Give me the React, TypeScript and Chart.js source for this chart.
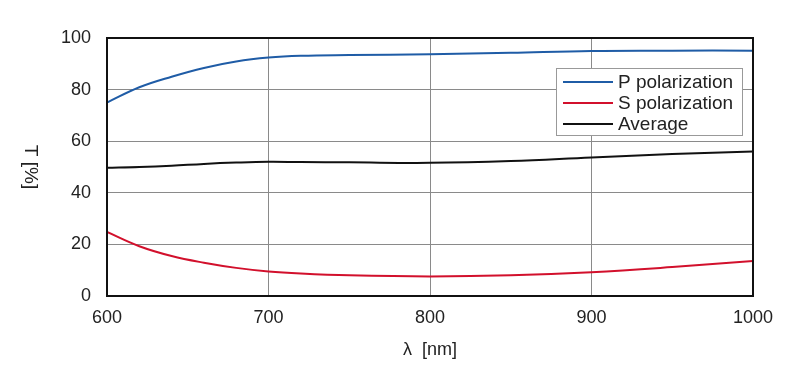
import { useEffect, useRef } from 'react';
import { Chart, registerables } from 'chart.js';

Chart.register(...registerables);

const wavelengths = [600, 620, 640, 660, 680, 700, 720, 750, 800, 850, 900, 950, 1000];
const pPolarization = [75.0, 80.9, 85.0, 88.4, 90.9, 92.4, 93.1, 93.4, 93.7, 94.3, 95.0, 95.1, 95.1];
const sPolarization = [24.8, 19.3, 15.5, 12.9, 10.9, 9.5, 8.7, 8.0, 7.6, 8.0, 9.2, 11.2, 13.6];
const average = [49.7, 50.0, 50.5, 51.2, 51.7, 52.0, 51.9, 51.8, 51.6, 52.3, 53.7, 55.0, 56.0];
const seriesLabels = ['P polarization', 'S polarization', 'Average'];
const seriesColors = ['#1f5ca6', '#d2102c', '#111111'];
const xTitle = 'λ  [nm]';
const yTitle = 'T [%]';

const FONT = '"Liberation Sans", Arial, sans-serif';

const framePlugin = {
  id: 'frameAndText',
  afterDatasetsDraw(chart: any) {
    const { ctx, chartArea } = chart;
    ctx.save();
    ctx.strokeStyle = '#111';
    ctx.lineWidth = 2;
    ctx.strokeRect(chartArea.left, chartArea.top, chartArea.right - chartArea.left, chartArea.bottom - chartArea.top);
    ctx.restore();
  },
  afterDraw(chart: any) {
    const { ctx, chartArea } = chart;
    ctx.save();
    // legend
    const bw = 186;
    const bh = 67;
    const bx = chartArea.right - 11 - bw;
    const by = chartArea.top + 30;
    ctx.fillStyle = '#fff';
    ctx.fillRect(bx, by, bw, bh);
    ctx.strokeStyle = '#999';
    ctx.lineWidth = 1;
    ctx.strokeRect(bx + 0.5, by + 0.5, bw, bh);
    ctx.font = `19px ${FONT}`;
    ctx.textBaseline = 'middle';
    ctx.textAlign = 'left';
    chart.data.datasets.forEach((ds: any, i: number) => {
      const y = by + 14 + i * 21;
      ctx.strokeStyle = ds.borderColor;
      ctx.lineWidth = 2;
      ctx.beginPath();
      ctx.moveTo(bx + 7, y);
      ctx.lineTo(bx + 57, y);
      ctx.stroke();
      ctx.fillStyle = '#222';
      ctx.fillText(ds.label, bx + 62, y + 1);
    });
    // y title (reads top to bottom)
    ctx.fillStyle = '#222';
    ctx.font = `19px ${FONT}`;
    ctx.textAlign = 'center';
    ctx.textBaseline = 'middle';
    ctx.save();
    ctx.translate(30, (chartArea.top + chartArea.bottom) / 2);
    ctx.rotate(Math.PI / 2);
    ctx.fillText(yTitle, 0, 0);
    ctx.restore();
    // x title
    ctx.font = `18px ${FONT}`;
    ctx.fillText(xTitle, (chartArea.left + chartArea.right) / 2, 350);
    ctx.restore();
  },
};

export default function App() {
  const canvasRef = useRef<HTMLCanvasElement | null>(null);

  useEffect(() => {
    if (!canvasRef.current) return;
    const mk = (vals: number[]) => wavelengths.map((x, i) => ({ x, y: vals[i] }));
    const seriesValues = [pPolarization, sPolarization, average];
    const chart = new Chart(canvasRef.current, {
      type: 'line',
      data: {
        datasets: seriesValues.map((vals, i) => ({
          label: seriesLabels[i],
          data: mk(vals),
          borderColor: seriesColors[i],
          backgroundColor: seriesColors[i],
          borderWidth: 2,
          pointRadius: 0,
          tension: 0.4,
          fill: false,
        })),
      },
      options: {
        animation: false,
        responsive: false,
        maintainAspectRatio: false,
        layout: { padding: { top: 38, right: 47, left: 0, bottom: 0 } },
        plugins: {
          legend: { display: false },
          tooltip: { enabled: false },
        },
        scales: {
          x: {
            type: 'linear',
            min: 600,
            max: 1000,
            ticks: {
              stepSize: 100,
              padding: 11,
              color: '#222',
              font: { family: FONT, size: 18 },
              maxRotation: 0,
              callback: (v: any) => String(v),
            },
            grid: { color: '#8a8a8a', lineWidth: 1, drawTicks: false },
            border: { display: false },
            afterFit(scale: any) {
              scale.height = 84;
            },
          },
          y: {
            min: 0,
            max: 100,
            ticks: {
              stepSize: 20,
              padding: 16,
              color: '#222',
              font: { family: FONT, size: 18 },
              callback: (v: any) => String(v),
            },
            grid: { color: '#8a8a8a', lineWidth: 1, drawTicks: false },
            border: { display: false },
            afterFit(scale: any) {
              scale.width = 107;
            },
          },
        },
      },
      plugins: [framePlugin],
    });
    return () => chart.destroy();
  }, []);

  return (
    <div style={{ position: 'fixed', left: 0, top: 0, width: 800, height: 380, background: '#fff' }}>
      <canvas ref={canvasRef} width={800} height={380} style={{ width: 800, height: 380 }} />
    </div>
  );
}
